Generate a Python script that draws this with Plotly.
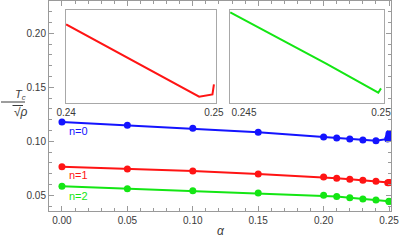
import plotly.graph_objects as go

# ---- data ----
alpha_n0 = [0.0, 0.05, 0.10, 0.15, 0.20, 0.21, 0.22, 0.23, 0.24, 0.249, 0.2495, 0.2499, 0.25]
tc_n0 = [0.1179, 0.1148, 0.1120, 0.1083, 0.1040, 0.1030, 0.1021, 0.1012, 0.1006, 0.1022, 0.1035, 0.1055, 0.1072]

alpha_n1 = [0.0, 0.05, 0.10, 0.15, 0.20, 0.21, 0.22, 0.23, 0.24, 0.249, 0.2499, 0.25]
tc_n1 = [0.0765, 0.0744, 0.0725, 0.0697, 0.0669, 0.0659, 0.0648, 0.0639, 0.0630, 0.0617, 0.06174, 0.06192]

alpha_n2 = [0.0, 0.05, 0.10, 0.15, 0.20, 0.21, 0.22, 0.23, 0.24, 0.2499, 0.25]
tc_n2 = [0.0583, 0.0561, 0.0543, 0.0521, 0.0500, 0.0490, 0.0478, 0.0466, 0.0457, 0.0444, 0.04444]

inset_alpha_red = [0.24, 0.249, 0.2499, 0.25]
inset_tc_red = [0.0630, 0.0617, 0.06174, 0.06192]

inset_alpha_green = [0.2445, 0.248, 0.2499, 0.25]
inset_tc_green = [0.04512, 0.04466, 0.04440, 0.044439]

series_labels = ["n=0", "n=1", "n=2"]
label_y = [0.1100, 0.0691, 0.0491]

BLUE = "#1414ff"
RED = "#ff1414"
GREEN = "#14e614"
AXC = "#9a9a9a"
TXT = "#3a3a3a"
FONT = "Liberation Sans"

# plot area in pixels: x 49..391, y 1..211
def px2paper_x(px):
    return (px - 49) / 342

def px2paper_y(py):
    return (211 - py) / 210

fig = go.Figure()
for xs, ys, c in [(alpha_n0, tc_n0, BLUE), (alpha_n1, tc_n1, RED), (alpha_n2, tc_n2, GREEN)]:
    fig.add_trace(go.Scatter(x=xs, y=ys, mode="lines+markers",
                             line=dict(color=c, width=2),
                             marker=dict(color=c, size=7),
                             xaxis="x", yaxis="y", showlegend=False))

fig.add_trace(go.Scatter(x=inset_alpha_red, y=inset_tc_red, mode="lines",
                         line=dict(color=RED, width=2), xaxis="x2", yaxis="y2", showlegend=False))
fig.add_trace(go.Scatter(x=inset_alpha_green, y=inset_tc_green, mode="lines",
                         line=dict(color=GREEN, width=2), xaxis="x3", yaxis="y3", showlegend=False))

main_ax = dict(showline=True, mirror="ticks", linecolor=AXC, linewidth=1,
               ticks="inside", ticklen=5, tickcolor=AXC, showgrid=False, zeroline=False,
               ticklabeloverflow="allow",
               tickfont=dict(family=FONT, size=10, color=TXT),
               minor=dict(ticks="inside", ticklen=3, tickcolor=AXC, dtick=0.01))

inset_x = dict(showline=True, mirror=True, linecolor="#a8a8a8", ticks="", showgrid=False,
               zeroline=False, ticklabeloverflow="allow",
               tickfont=dict(family=FONT, size=10, color=TXT))
inset_y = dict(showline=True, mirror=True, linecolor="#a8a8a8", ticks="", showticklabels=False,
               showgrid=False, zeroline=False)

fig.update_layout(
    width=399, height=246,
    margin=dict(l=49, r=8, t=1, b=35),
    paper_bgcolor="white", plot_bgcolor="white",
    font=dict(family=FONT, color=TXT),
    xaxis=dict(range=[-0.0099, 0.2515], tickvals=[0, 0.05, 0.10, 0.15, 0.20, 0.25],
               ticktext=["0.00", "0.05", "0.10", "0.15", "0.20", "0.25"], **main_ax),
    yaxis=dict(range=[0.0355, 0.2299], tickvals=[0.05, 0.10, 0.15, 0.20],
               ticktext=["0.05", "0.10", "0.15", "0.20"], **main_ax),
    xaxis2=dict(domain=[0.0497, 0.4883], anchor="y2", range=[0.23999, 0.25014],
                tickvals=[0.24, 0.25], ticktext=["0.24", "0.25"], **inset_x),
    yaxis2=dict(domain=[0.5143, 0.9571], anchor="x2", range=[0.061587, 0.063257], **inset_y),
    xaxis3=dict(domain=[0.5292, 0.9804], anchor="y3", range=[0.24449, 0.25012],
                tickvals=[0.245, 0.25], ticktext=["0.245", "0.25"], **inset_x),
    yaxis3=dict(domain=[0.5143, 0.9571], anchor="x3", range=[0.044308, 0.045141], **inset_y),
)

for lab, ly, c in zip(series_labels, label_y, [BLUE, RED, GREEN]):
    fig.add_annotation(x=0.0035, y=ly, xref="x", yref="y", text=lab, showarrow=False,
                       xanchor="left", yanchor="middle", font=dict(family=FONT, size=11, color=c))

# y-axis title as a fraction
fig.add_annotation(x=px2paper_x(13), y=px2paper_y(95), xref="paper", yref="paper",
                   text="<i>T</i><sub><i>c</i></sub>", showarrow=False,
                   font=dict(family=FONT, size=11, color=TXT))
fig.add_annotation(x=px2paper_x(12), y=px2paper_y(112), xref="paper", yref="paper", text="√<i>ρ</i>",
                   showarrow=False, font=dict(family=FONT, size=12, color=TXT))
fig.add_annotation(x=px2paper_x(221), y=px2paper_y(240), xref="paper", yref="paper", text="<i>α</i>",
                   showarrow=False, font=dict(family=FONT, size=12, color=TXT))

fig.add_shape(type="line", xref="paper", yref="paper", x0=px2paper_x(1), x1=px2paper_x(25),
              y0=px2paper_y(102), y1=px2paper_y(102), line=dict(color=TXT, width=1))
fig.add_shape(type="line", xref="paper", yref="paper", x0=px2paper_x(12.5), x1=px2paper_x(23),
              y0=px2paper_y(105.5), y1=px2paper_y(105.5), line=dict(color=TXT, width=1))

fig.write_html("out.html", config={"displayModeBar": False},
               post_script="document.body.style.margin='0';document.body.style.overflow='hidden';")
